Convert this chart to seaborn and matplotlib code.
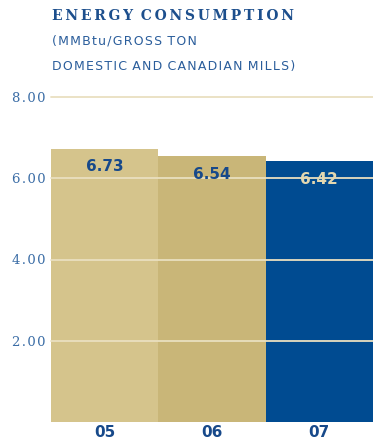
import matplotlib
matplotlib.use("Agg")
import matplotlib.pyplot as plt
import seaborn as sns

# Energy consumption per gross ton, by year
years = ["05", "06", "07"]
values = [6.73, 6.54, 6.42]
bar_colors = ["#d5c48c", "#c9b678", "#004b91"]
label_colors = ["#17498a", "#17498a", "#e4d8b0"]
y_ticks = [2.0, 4.0, 6.0, 8.0]
y_tick_labels = ["2.00", "4.00", "6.00", "8.00"]

title = "ENERGY CONSUMPTION"
subtitle_1 = "(MMBtu/GROSS TON"
subtitle_2 = "DOMESTIC AND CANADIAN MILLS)"


def spaced(s, gap="\u200a"):
    """Open up letter spacing by inserting a narrow space between letters."""
    return (" " + gap).join(gap.join(word) for word in s.split(" "))


sns.set_theme(style="white")
W, H = 373, 440
fig = plt.figure(figsize=(W / 100, H / 100), dpi=100)
ax = fig.add_axes([51 / W, 18 / H, 1 - 51 / W, (422 - 97) / H])

sns.barplot(x=years, y=values, hue=years, palette=bar_colors, width=1.0,
            saturation=1, legend=False, ax=ax, linewidth=0)

ax.set_xlim(-0.5, 2.5)
ax.set_ylim(0, 8.0)
ax.set_yticks(y_ticks)
ax.set_yticklabels([spaced(t) for t in y_tick_labels], family="DejaVu Serif",
                   fontsize=9.5, color="#3b6da6")
ax.tick_params(axis="y", length=0, pad=4)
ax.tick_params(axis="x", length=0, pad=2)
for lbl in ax.get_xticklabels():
    lbl.set_fontweight("bold")
    lbl.set_fontsize(11)
    lbl.set_color("#17498a")
    lbl.set_family("DejaVu Sans")
ax.set_xlabel("")
ax.set_ylabel("")
for s in ax.spines.values():
    s.set_visible(False)

# light rules drawn over the bars
for yv in y_ticks:
    ax.axhline(yv, color="#e9dfc0", lw=1.3, zorder=5, clip_on=False)

for i, (v, c) in enumerate(zip(values, label_colors)):
    ax.annotate(f"{v:.2f}", xy=(i, v), xytext=(0, -13), textcoords="offset points",
                ha="center", va="center", fontsize=11, fontweight="bold",
                color=c, family="DejaVu Sans", zorder=6)

fig.text(52 / W, 1 - 20 / H, spaced(title, "\u2009"), family="DejaVu Serif",
         fontweight="bold", fontsize=10, color="#1d4f8d", ha="left", va="baseline")
fig.text(52 / W, 1 - 45 / H, spaced(subtitle_1), family="DejaVu Sans", fontsize=9,
         color="#2a5d9b", ha="left", va="baseline")
fig.text(52 / W, 1 - 70 / H, spaced(subtitle_2), family="DejaVu Sans", fontsize=9,
         color="#2a5d9b", ha="left", va="baseline")

fig.savefig("out.png", dpi=100)
